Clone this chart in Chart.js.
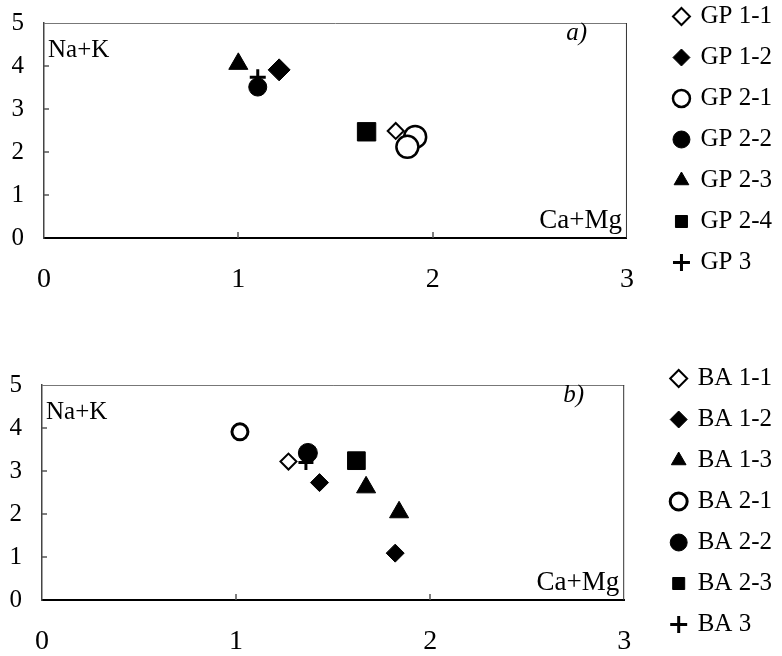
<!DOCTYPE html>
<html>
<head>
<meta charset="utf-8">
<script src="https://cdn.jsdelivr.net/npm/chart.js@4.4.1/dist/chart.umd.min.js"></script>
<style>
  html, body { margin: 0; padding: 0; background: #fff; overflow: hidden; }
  body { width: 782px; height: 656px; position: relative; }
  .chart-box { position: absolute; left: 0; width: 782px; height: 310px; }
  #boxA { top: -12px; }
  #boxB { top: 350px; }
</style>
</head>
<body>
<div class="chart-box" id="boxA"><canvas id="chartA"></canvas></div>
<div class="chart-box" id="boxB"><canvas id="chartB"></canvas></div>

<script>
/* =========================
   Data (Ca+Mg on x, Na+K on y)
========================= */
const xAxisTicks = [0, 1, 2, 3];
const yAxisTicks = [0, 1, 2, 3, 4, 5];
const xTitle = 'Ca+Mg';
const yTitle = 'Na+K';

// a) GP samples
const gpLabels = ['GP 1-1', 'GP 1-2', 'GP 2-1', 'GP 2-2', 'GP 2-3', 'GP 2-4', 'GP 3'];
const gpX = [[1.81], [1.21], [1.91, 1.87], [1.10], [1.00], [1.66], [1.10]];
const gpY = [[2.49], [3.91], [2.35, 2.12], [3.51], [4.05], [2.47], [3.74]];

// b) BA samples
const baLabels = ['BA 1-1', 'BA 1-2', 'BA 1-3', 'BA 2-1', 'BA 2-2', 'BA 2-3', 'BA 3'];
const baX = [[1.27], [1.43, 1.82], [1.67, 1.84], [1.02], [1.37], [1.62], [1.36]];
const baY = [[3.22], [2.73, 1.09], [2.62, 2.04], [3.91], [3.42], [3.24], [3.20]];

/* =========================
   Marker looks
========================= */
const gpMarkers = [
  { style: 'rectRot', radius: 8, open: true, width: 2 },
  { style: 'rectRot', radius: 11, open: false, width: 1 },
  { style: 'circle', radius: 11, open: true, width: 2.5 },
  { style: 'circle', radius: 9, open: false, width: 1 },
  { style: 'triangle', radius: 11, open: false, width: 1 },
  { style: 'rect', radius: 13, open: false, width: 1 },
  { style: 'cross', radius: 8, open: false, width: 3 }
];

const baMarkers = [
  { style: 'rectRot', radius: 8, open: true, width: 2 },
  { style: 'rectRot', radius: 9, open: false, width: 1 },
  { style: 'triangle', radius: 11, open: false, width: 1 },
  { style: 'circle', radius: 8, open: true, width: 3 },
  { style: 'circle', radius: 9.5, open: false, width: 1 },
  { style: 'rect', radius: 12.5, open: false, width: 1 },
  { style: 'cross', radius: 7.5, open: false, width: 3 }
];

const serif = "'Liberation Serif', 'Times New Roman', serif";

// frame, inner tick marks and the little texts inside the plot
const frameAndText = {
  id: 'frameAndText',
  beforeDatasetsDraw(chart, args, opts) {
    const { ctx, chartArea: { left, right, top, bottom }, scales: { x, y } } = chart;
    ctx.save();

    ctx.strokeStyle = '#777';
    ctx.lineWidth = 1;
    ctx.beginPath();
    ctx.moveTo(left, top + 0.5);
    ctx.lineTo(right, top + 0.5);
    ctx.stroke();

    ctx.strokeStyle = '#333';
    ctx.beginPath();
    ctx.moveTo(right - 0.5, top);
    ctx.lineTo(right - 0.5, bottom);
    ctx.stroke();

    // ticks point inwards
    ctx.strokeStyle = '#555';
    ctx.lineWidth = 1.5;
    xAxisTicks.slice(1, -1).forEach(v => {
      const px = Math.round(x.getPixelForValue(v));
      ctx.beginPath();
      ctx.moveTo(px, bottom);
      ctx.lineTo(px, bottom - 6);
      ctx.stroke();
    });
    yAxisTicks.slice(1, -1).forEach(v => {
      const py = Math.round(y.getPixelForValue(v));
      ctx.beginPath();
      ctx.moveTo(left, py);
      ctx.lineTo(left + 5, py);
      ctx.stroke();
    });

    ctx.fillStyle = '#000';
    ctx.textBaseline = 'middle';
    ctx.font = '25px ' + serif;
    ctx.textAlign = 'left';
    ctx.fillText(yTitle, left + 4, top + 27);
    ctx.textAlign = 'right';
    ctx.font = '27px ' + serif;
    ctx.fillText(xTitle, right - 5, bottom - 17);
    ctx.font = 'italic 25px ' + serif;
    ctx.fillText(opts.tag, right - 40, top + 10);

    ctx.restore();
  }
};

function buildChart(canvasId, labels, xs, ys, markers, tag, yAxisWidth) {
  const datasets = labels.map((label, i) => ({
    label,
    data: xs[i].map((xv, j) => ({ x: xv, y: ys[i][j] })),
    pointStyle: markers[i].style,
    pointRadius: markers[i].radius,
    pointHoverRadius: markers[i].radius,
    backgroundColor: markers[i].open ? '#fff' : '#000',
    borderColor: '#000',
    borderWidth: markers[i].width,
    showLine: false
  }));

  return new Chart(document.getElementById(canvasId), {
    type: 'scatter',
    data: { datasets },
    plugins: [frameAndText],
    options: {
      responsive: true,
      maintainAspectRatio: false,
      animation: false,
      layout: { padding: 0 },
      scales: {
        x: {
          type: 'linear',
          min: xAxisTicks[0],
          max: xAxisTicks[xAxisTicks.length - 1],
          ticks: { stepSize: 1, padding: 25, color: '#000', font: { family: serif, size: 28 } },
          grid: { display: false, drawTicks: false },
          border: { display: true, color: '#000', width: 2 },
          afterFit: s => { s.height = 60; }
        },
        y: {
          type: 'linear',
          min: yAxisTicks[0],
          max: yAxisTicks[yAxisTicks.length - 1],
          ticks: { stepSize: 1, padding: 20, color: '#000', font: { family: serif, size: 25 } },
          grid: { display: false, drawTicks: false },
          border: { display: true, color: '#444', width: 1.5 },
          afterFit: s => { s.width = yAxisWidth; }
        },
        topGap: {
          type: 'linear',
          position: 'top',
          ticks: { display: false },
          grid: { display: false, drawTicks: false },
          border: { display: false },
          afterFit: s => { s.height = 28; }
        },
        rightGap: {
          type: 'linear',
          position: 'right',
          ticks: { display: false },
          grid: { display: false, drawTicks: false },
          border: { display: false },
          afterFit: s => { s.width = 32; }
        }
      },
      plugins: {
        frameAndText: { tag },
        tooltip: { enabled: false },
        legend: {
          position: 'right',
          align: 'start',
          labels: {
            usePointStyle: true,
            boxWidth: 13,
            boxHeight: 12,
            padding: 16,
            color: '#000',
            font: { family: serif, size: 25 }
          }
        }
      }
    }
  });
}

buildChart('chartA', gpLabels, gpX, gpY, gpMarkers, 'a)', 44);
buildChart('chartB', baLabels, baX, baY, baMarkers, 'b)', 42);
</script>
</body>
</html>
